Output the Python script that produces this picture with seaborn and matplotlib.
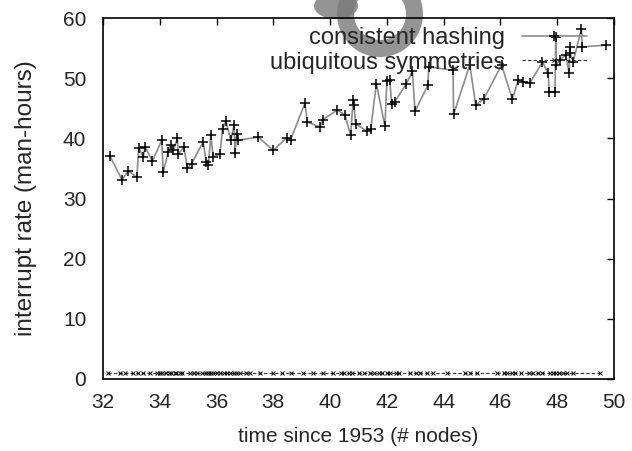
import matplotlib
matplotlib.use("Agg")
import matplotlib.pyplot as plt
from matplotlib.patches import Wedge, Ellipse
import seaborn as sns
import pandas as pd

# ---- data ----
hash_x = [32.25, 32.67, 32.89, 33.19, 33.26, 33.42, 33.48, 33.74, 34.07, 34.12,
          34.30, 34.38, 34.48, 34.62, 34.65, 34.85, 34.97, 35.12, 35.53, 35.63,
          35.71, 35.80, 35.88, 36.12, 36.21, 36.33, 36.50, 36.62, 36.65, 36.71,
          36.77, 37.47, 38.00, 38.47, 38.61, 39.11, 39.20, 39.64, 39.74, 40.25,
          40.52, 40.72, 40.81, 40.84, 40.90, 41.29, 41.43, 41.63, 41.93, 42.00,
          42.10, 42.17, 42.28, 42.69, 42.90, 42.99, 43.44, 43.48, 44.33, 44.35,
          44.92, 45.13, 45.42, 46.04, 46.42, 46.63, 46.78, 47.04, 47.48, 47.68,
          47.72, 47.92, 47.95, 47.97, 48.09, 48.30, 48.42, 48.44, 48.46, 48.56,
          48.85, 48.89, 49.73]
hash_y = [37.0, 33.1, 34.6, 33.5, 38.4, 36.9, 38.6, 36.2, 39.7, 34.4,
          37.8, 38.9, 38.0, 40.0, 37.4, 38.5, 35.1, 35.8, 39.4, 36.1,
          35.6, 40.5, 36.9, 37.4, 41.6, 42.9, 39.7, 42.2, 37.5, 40.8,
          39.7, 40.2, 38.0, 40.1, 39.8, 45.8, 42.7, 41.9, 43.1, 44.7,
          43.9, 40.5, 46.3, 45.5, 42.4, 41.2, 41.5, 49.1, 42.0, 49.6,
          49.7, 45.7, 46.1, 49.1, 51.2, 44.5, 48.8, 51.9, 51.3, 44.0,
          52.2, 45.5, 46.6, 52.2, 46.5, 49.7, 49.4, 49.2, 52.7, 50.8,
          47.7, 47.7, 56.8, 52.2, 53.1, 53.8, 50.8, 55.2, 54.1, 52.7,
          58.1, 55.2, 55.5]

symm_x = [32.18, 32.61, 32.77, 33.06, 33.24, 33.42, 33.65, 33.91, 34.02, 34.09,
          34.21, 34.33, 34.41, 34.52, 34.58, 34.71, 34.80, 35.05, 35.22, 35.31,
          35.48, 35.62, 35.69, 35.81, 35.87, 36.02, 36.11, 36.27, 36.38, 36.49,
          36.62, 36.70, 36.83, 37.02, 37.18, 37.52, 37.98, 38.31, 38.62, 39.04,
          39.40, 39.76, 40.11, 40.37, 40.49, 40.66, 40.78, 41.03, 41.19, 41.41,
          41.53, 41.72, 41.84, 42.01, 42.12, 42.31, 42.44, 42.82, 43.01, 43.17,
          43.42, 43.61, 44.12, 44.76, 44.91, 45.17, 45.87, 46.11, 46.24, 46.42,
          46.53, 46.71, 47.02, 47.16, 47.31, 47.48, 47.74, 47.86, 47.94, 48.07,
          48.21, 48.36, 48.57, 49.52]
symm_y = [1.0, 1.0, 1.0, 1.0, 1.0, 1.0, 1.0, 1.0, 1.0, 1.0,
          1.0, 1.0, 1.0, 1.0, 1.0, 1.0, 1.0, 1.0, 1.0, 1.0,
          1.0, 1.0, 1.0, 1.0, 1.0, 1.0, 1.0, 1.0, 1.0, 1.0,
          1.0, 1.0, 1.0, 1.0, 1.0, 1.0, 1.0, 1.0, 1.0, 1.0,
          1.0, 1.0, 1.0, 1.0, 1.0, 1.0, 1.0, 1.0, 1.0, 1.0,
          1.0, 1.0, 1.0, 1.0, 1.0, 1.0, 1.0, 1.0, 1.0, 1.0,
          1.0, 1.0, 1.0, 1.0, 1.0, 1.0, 1.0, 1.0, 1.0, 1.0,
          1.0, 1.0, 1.0, 1.0, 1.0, 1.0, 1.0, 1.0, 1.0, 1.0,
          1.0, 1.0, 1.0, 1.0]

x_ticks = [32, 34, 36, 38, 40, 42, 44, 46, 48, 50]
y_ticks = [0, 10, 20, 30, 40, 50, 60]
series_names = ["consistent hashing", "ubiquitous symmetries"]
x_label = "time since 1953 (# nodes)"
y_label = "interrupt rate (man-hours)"

# ---- style ----
sns.set_style("white")
plt.rcParams["font.family"] = ["Liberation Sans", "DejaVu Sans"]
plt.rcParams["xtick.direction"] = "in"
plt.rcParams["ytick.direction"] = "in"

fig = plt.figure(figsize=(6.32, 4.51), dpi=100)
fig.patch.set_facecolor("white")
ax = fig.add_axes([103 / 632, 1 - 379 / 451, 511 / 632, 361 / 451])
ax.patch.set_alpha(0)

df1 = pd.DataFrame({"x": hash_x, "y": hash_y})
df2 = pd.DataFrame({"x": symm_x, "y": symm_y})

sns.lineplot(data=df1, x="x", y="y", ax=ax, estimator=None, sort=True,
             color="#8c8c8c", linewidth=1.2, marker="+", markersize=6.5,
             markeredgecolor="black", markeredgewidth=1.1,
             label=series_names[0])
sns.lineplot(data=df2, x="x", y="y", ax=ax, estimator=None, sort=True,
             color="#333333", linewidth=0.8, linestyle=(0, (3, 2)),
             marker="x", markersize=3.2, markeredgecolor="black",
             markeredgewidth=0.7, label=series_names[1])

ax.set_xlim(32, 50)
ax.set_ylim(0, 60)
ax.set_xticks(x_ticks)
ax.set_yticks(y_ticks)
ax.tick_params(axis="both", which="both", labelsize=15, length=5, width=1,
               color="black", top=True, right=True, pad=10)
ax.tick_params(axis="y", pad=12)
for s in ax.spines.values():
    s.set_visible(True)
    s.set_color("black")
    s.set_linewidth(1.2)

ax.set_xlabel(x_label, fontsize=15, labelpad=11)
ax.set_ylabel(y_label, fontsize=17.5, labelpad=19)

leg = ax.legend(loc="upper right", bbox_to_anchor=(0.947, 0.974),
                frameon=False, markerfirst=False, fontsize=17,
                handlelength=2.75, handletextpad=0.72, labelspacing=0.1,
                borderpad=0, borderaxespad=0, numpoints=1)

# grey crescent artifact near the top (inch coords, origin bottom-left)
tr = fig.dpi_scale_trans
ring = Wedge((3.80, 4.51 - 0.14), 0.43, 0, 360, width=0.17, facecolor="#7a7a7a",
             edgecolor="none", alpha=0.8, transform=tr, zorder=-1)
blob = Ellipse((3.36, 4.51 - 0.06), 0.44, 0.26, facecolor="#7a7a7a",
               edgecolor="none", alpha=0.8, transform=tr, zorder=-1)
fig.add_artist(ring)
fig.add_artist(blob)

fig.savefig("out.png", dpi=100)
